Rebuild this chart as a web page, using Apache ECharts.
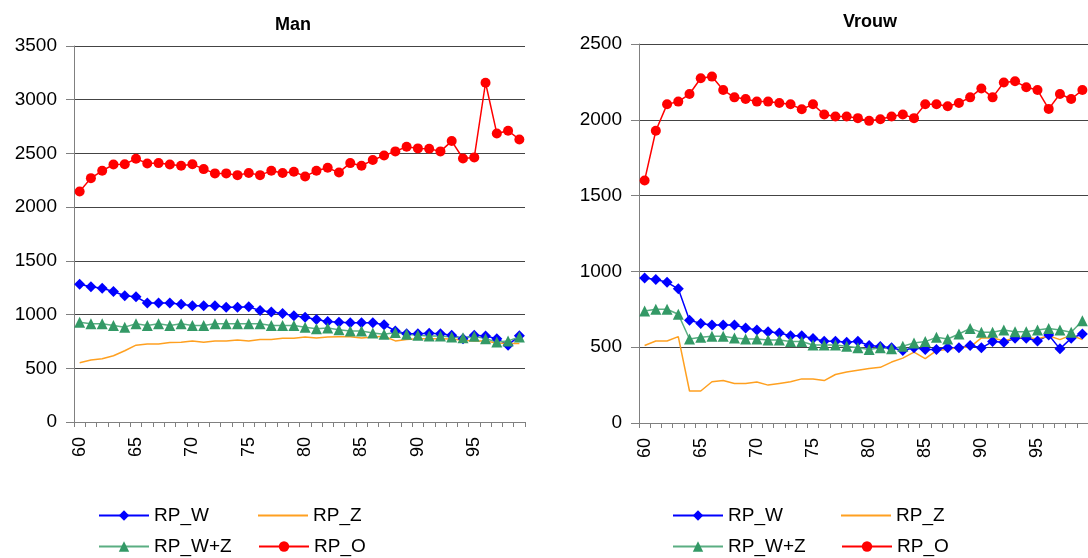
<!DOCTYPE html>
<html>
<head>
<meta charset="utf-8">
<script src="https://cdn.jsdelivr.net/npm/echarts@6/dist/echarts.min.js"></script>
<style>
  html, body { margin: 0; padding: 0; background: #fff; }
  #main { width: 1088px; height: 558px; }
</style>
</head>
<body>
<div id="main"></div>
<script>
// leeftijden
const ages = ['60','61','62','63','64','65','66','67','68','69','70','71','72','73','74','75','76','77','78','79',
              '80','81','82','83','84','85','86','87','88','89','90','91','92','93','94','95','96','97','98','99'];

// Man
const manW = [1282,1258,1245,1215,1175,1166,1107,1107,1107,1095,1083,1083,1083,1067,1067,1073,1037,1025,1009,988,
              975,954,935,929,923,923,923,905,847,822,822,825,822,807,776,807,801,776,715,804];
const manZ = [552,577,589,617,663,715,727,727,739,742,755,742,755,755,764,755,767,767,779,779,
              791,782,791,794,794,782,791,798,755,767,776,776,776,773,761,755,755,736,730,730];
const manWZ = [929,914,914,899,883,914,899,914,899,914,899,899,914,914,914,914,914,899,899,899,
               883,868,874,859,847,847,828,816,834,816,807,801,801,791,785,798,776,745,755,791];
const manO = [2145,2270,2338,2397,2400,2450,2407,2410,2397,2385,2400,2354,2314,2314,2298,2317,2298,2338,2317,2329,
              2286,2338,2366,2323,2410,2385,2438,2481,2519,2562,2547,2543,2519,2615,2453,2463,3158,2686,2711,2630];

// Vrouw
const vrouwW = [957,946,928,885,678,657,646,646,646,626,613,602,593,576,576,557,539,539,533,539,
                511,504,496,478,496,485,485,496,496,511,496,537,533,559,559,541,580,489,559,587];
const vrouwZ = [511,541,541,570,211,211,272,280,261,261,270,250,261,272,291,291,280,320,337,348,
                359,367,402,428,467,424,478,485,500,500,561,561,543,559,565,554,576,550,580,550];
const vrouwWZ = [739,750,750,717,554,565,572,572,561,554,554,548,548,537,537,515,515,515,507,496,
                 485,496,489,507,528,537,565,554,587,624,598,598,613,602,602,613,624,613,598,674];
const vrouwO = [1600,1928,2102,2120,2170,2274,2285,2196,2148,2137,2120,2120,2111,2102,2070,2102,2035,2022,2022,2011,
                1993,2004,2022,2035,2011,2102,2102,2089,2111,2148,2207,2148,2246,2254,2215,2196,2072,2170,2137,2196];

const font = "'Liberation Sans', Arial, sans-serif";
const axisGray = '#808080';

function xAx(i) {
  return {
    type: 'category', gridIndex: i, data: ages, boundaryGap: true,
    axisLine: { lineStyle: { color: axisGray, width: 1 } },
    axisTick: { show: true, interval: 0, length: 5, lineStyle: { color: axisGray } },
    axisLabel: { interval: 4, rotate: 90, fontSize: 18, margin: 15, color: '#000', fontFamily: font },
    splitLine: { show: false }
  };
}
function yAx(i, max) {
  return {
    type: 'value', gridIndex: i, min: 0, max: max, interval: 500,
    axisLine: { show: true, lineStyle: { color: axisGray, width: 1 } },
    axisTick: { show: true, length: 8, lineStyle: { color: axisGray } },
    axisLabel: { fontSize: 19, margin: 17, color: '#000', fontFamily: font,
                 formatter: function (v) { return String(v); } },
    splitLine: { show: true, lineStyle: { color: '#444', width: 1 } }
  };
}
function series(i, w, z, wz, o) {
  return [
    { name: 'RP_W', type: 'line', xAxisIndex: i, yAxisIndex: i, data: w,
      symbol: 'diamond', symbolSize: 11, showAllSymbol: true,
      lineStyle: { color: '#0000ff', width: 1.5 }, itemStyle: { color: '#0000ff' } },
    { name: 'RP_Z', type: 'line', xAxisIndex: i, yAxisIndex: i, data: z,
      symbol: 'none', lineStyle: { color: '#ffa020', width: 1.5 }, itemStyle: { color: '#ffa020' } },
    { name: 'RP_W+Z', type: 'line', xAxisIndex: i, yAxisIndex: i, data: wz,
      symbol: 'triangle', symbolSize: 11, showAllSymbol: true,
      lineStyle: { color: '#5aae82', width: 1.5 }, itemStyle: { color: '#339966' } },
    { name: 'RP_O', type: 'line', xAxisIndex: i, yAxisIndex: i, data: o,
      symbol: 'circle', symbolSize: 10, showAllSymbol: true,
      lineStyle: { color: '#ff0000', width: 1.5 }, itemStyle: { color: '#ff0000' } }
  ];
}
// een legenda per item, zodat de kolommen netjes onder elkaar staan
function legend(name, left, top) {
  const lg = {
    data: [name], left: left, top: top, padding: 0,
    itemWidth: 50, itemHeight: 13, selectedMode: false,
    textStyle: { fontSize: 19, color: '#000', fontFamily: font }
  };
  if (name === 'RP_Z') {
    // alleen een lijn, geen markering
    lg.icon = 'rect';
    lg.itemHeight = 2;
  }
  return lg;
}

const myChart = echarts.init(document.getElementById('main'));
const option = {
  animation: false,
  backgroundColor: '#fff',
  title: [
    { text: 'Man', left: 288, top: 11, textAlign: 'center',
      textStyle: { fontSize: 18, fontWeight: 'bold', color: '#000', fontFamily: font } },
    { text: 'Vrouw', left: 865, top: 8, textAlign: 'center',
      textStyle: { fontSize: 18, fontWeight: 'bold', color: '#000', fontFamily: font } }
  ],
  legend: [
    legend('RP_W', 98, 506), legend('RP_W+Z', 98, 537),
    legend('RP_Z', 258, 506), legend('RP_O', 258, 537),
    legend('RP_W', 672, 506), legend('RP_W+Z', 672, 537),
    legend('RP_Z', 841, 506), legend('RP_O', 841, 537)
  ],
  grid: [
    { left: 74, top: 46, width: 451, height: 376 },
    { left: 639, top: 44, width: 451, height: 379 }
  ],
  xAxis: [xAx(0), xAx(1)],
  yAxis: [yAx(0, 3500), yAx(1, 2500)],
  series: series(0, manW, manZ, manWZ, manO).concat(series(1, vrouwW, vrouwZ, vrouwWZ, vrouwO))
};
myChart.setOption(option);
</script>
</body>
</html>
